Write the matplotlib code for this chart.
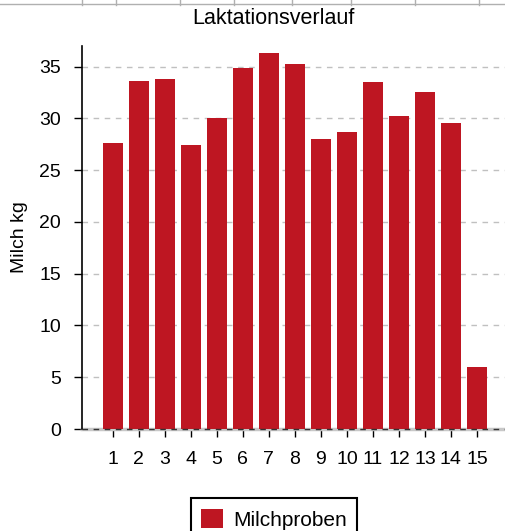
import numpy as np
import matplotlib.pyplot as plt
from matplotlib.lines import Line2D

plt.rcParams['font.family'] = ['Liberation Sans', 'DejaVu Sans']

# Milchproben pro Probemelkung
proben = [1, 2, 3, 4, 5, 6, 7, 8, 9, 10, 11, 12, 13, 14, 15]
milch_kg = [27.6, 33.6, 33.8, 27.4, 30.0, 34.9, 36.3, 35.3, 28.0, 28.7, 33.5, 30.2, 32.6, 29.6, 6.0]
y_ticks = [0, 5, 10, 15, 20, 25, 30, 35]

BAR_COLOR = '#be1622'

fig = plt.figure(figsize=(5.06, 5.31), dpi=100)
ax = fig.add_axes([82/506, 1 - 429/531, 1 - 82/506, (429 - 46)/531])

ax.bar(proben, milch_kg, width=0.77, color=BAR_COLOR, label='Milchproben', zorder=3)

ax.set_xlim(-0.19, 16.12)
ax.set_ylim(0, 37)
ax.set_xticks(proben)
ax.set_yticks(y_ticks)
ax.tick_params(axis='both', labelsize=14, color='black', length=6, width=1)
ax.tick_params(axis='x', pad=9.5)
ax.tick_params(axis='y', pad=9)

for v in y_ticks[1:]:
    ax.axhline(v, color='#c0c0c0', lw=1, ls=(0, (4, 4)), zorder=1)
# baseline: light grey with dark dashes
ax.axhline(0, color='#c8c8c8', lw=2.5, zorder=2, clip_on=False)
ax.axhline(0, color='#333333', lw=1, ls=(0, (4, 4)), zorder=4, clip_on=False)

for s in ['top', 'right', 'bottom']:
    ax.spines[s].set_visible(False)
ax.spines['left'].set_linewidth(1.2)

ax.set_ylabel('Milch kg', fontsize=14, labelpad=8)
fig.text(273/506, 1 - 19/531, 'Laktationsverlauf', ha='center', va='center', fontsize=15.5)

leg = fig.legend(loc='upper center', bbox_to_anchor=(274/506, 1 - 488/531),
                 fontsize=15, fancybox=False, framealpha=1, edgecolor='black',
                 handlelength=1.05, handleheight=1.05, borderpad=0.5, handletextpad=0.5)
leg.get_frame().set_linewidth(1.5)

# Zellraster der Tabelle am oberen Rand
fig.add_artist(Line2D([0, 1], [1 - 4/531, 1 - 4/531], color='#b0b0b0', lw=1))
for xp in [82, 116, 180, 234, 292, 351, 415, 479]:
    fig.add_artist(Line2D([xp/506, xp/506], [1, 1 - 5/531], color='#b0b0b0', lw=1))

fig.savefig('out.png', dpi=100)
